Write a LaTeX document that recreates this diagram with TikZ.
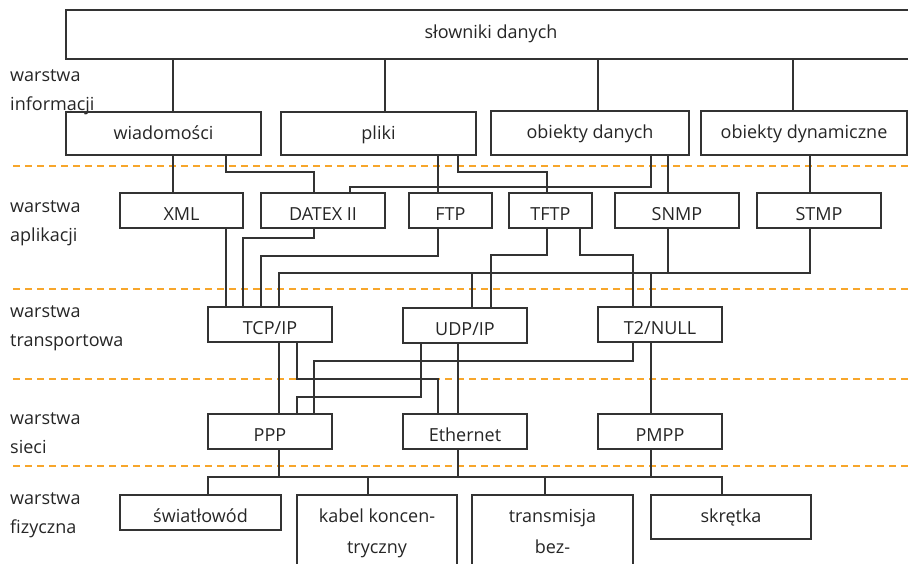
\documentclass[tikz,border=0pt]{standalone}
\usepackage{fontspec}
\setmainfont{Open Sans}
\definecolor{ink}{HTML}{262626}
\definecolor{rule}{HTML}{333333}
\definecolor{layerline}{HTML}{F7A62B}
\begin{document}
\begin{tikzpicture}[x=1pt,y=-1pt,
  % every box puts its text baseline 27pt below its top edge: text height = 54pt - box height
  box/.style={draw=rule,line width=1.1pt,inner sep=0pt,outer sep=0pt,anchor=north west,
    text=ink,font=\fontsize{18}{22}\selectfont,text depth=0pt},
  h35/.style={box,minimum height=35,text height=19pt},
  h43/.style={box,minimum height=43,text height=11pt},
  h44/.style={box,minimum height=44,text height=10pt},
  boxtext/.style={text=ink,font=\fontsize{18}{22}\selectfont,anchor=base,inner sep=0pt},
  layer/.style={text=ink,font=\fontsize{18}{22}\selectfont,anchor=base west,inner sep=0pt},
  link/.style={draw=rule,line width=1.1pt},
  sep/.style={draw=layerline,line width=1.1pt,dash pattern=on 7pt off 5pt}]
\useasboundingbox (0,0) rectangle (908,563);
\fill[white] (0,0) rectangle (908,563);

% layer separators
\foreach \yy in {166,289,379,466}
  \draw[sep] (13,\yy) -- (908,\yy);

% layer names
\node[layer] (linfoa) at (10,81)  {warstwa};
\node[layer] (linfob) at (10,110) {informacji};
\node[layer] (lappa)  at (10,212) {warstwa};
\node[layer] (lappb)  at (10,241) {aplikacji};
\node[layer] (ltrana) at (10,317) {warstwa};
\node[layer] (ltranb) at (10,346) {transportowa};
\node[layer] (lneta)  at (10,424) {warstwa};
\node[layer] (lnetb)  at (10,453) {sieci};
\node[layer] (lphya)  at (10,504) {warstwa};
\node[layer] (lphyb)  at (10,533) {fizyczna};

% information layer
\node[box,minimum width=850,minimum height=49,text height=7pt] (slow) at (66,10) {słowniki danych};
\node[h43,minimum width=195] (wiad) at (66,112) {wiadomości};
\node[h43,minimum width=195] (pliki) at (281,112) {pliki};
\node[h44,minimum width=198] (obdan) at (491,111) {obiekty danych};
\node[h44,minimum width=206] (obdyn) at (701,111) {obiekty dynamiczne};

% application layer
\node[h35,minimum width=123] (xml) at (120,193) {XML};
\node[h35,minimum width=124] (datex) at (261,193) {DATEX II};
\node[h35,minimum width=83] (ftp) at (409,193) {FTP};
\node[h35,minimum width=83] (tftp) at (509,193) {TFTP};
\node[h35,minimum width=124] (snmp) at (615,193) {SNMP};
\node[h35,minimum width=124] (stmp) at (757,193) {STMP};

% transport layer
\node[h35,minimum width=124] (tcp) at (208,307) {TCP/IP};
\node[h35,minimum width=124] (udp) at (403,308) {UDP/IP};
\node[h35,minimum width=124] (t2) at (598,307) {T2/NULL};

% network layer
\node[h35,minimum width=124] (ppp) at (208,414) {PPP};
\node[h35,minimum width=124] (eth) at (403,414) {Ethernet};
\node[h35,minimum width=124] (pmpp) at (598,414) {PMPP};

% physical layer
\node[h35,minimum width=161] (swiat) at (120,495) {światłowód};
\node[box,minimum width=160,minimum height=85] (kabel) at (297,495) {};
\node[boxtext] (kabela) at ([yshift=-27pt]kabel.north) {kabel koncen-};
\node[boxtext] (kabelb) at ([yshift=-58pt]kabel.north) {tryczny};
\node[box,minimum width=161,minimum height=85] (trans) at (472,495) {};
\node[boxtext] (transa) at ([yshift=-27pt]trans.north) {transmisja};
\node[boxtext] (transb) at ([yshift=-58pt]trans.north) {bez-};
\node[h44,minimum width=160] (skretka) at (651,495) {skrętka};

% dictionaries -> information objects
\draw[link] (slow.south -| 173,0) -- (wiad.north -| 173,0);
\draw[link] (slow.south -| 385,0) -- (pliki.north -| 385,0);
\draw[link] (slow.south -| 598,0) -- (obdan.north -| 598,0);
\draw[link] (slow.south -| 793,0) -- (obdyn.north -| 793,0);

% information -> application
\draw[link] (wiad.south -| 173,0) -- (xml.north -| 173,0);
\draw[link] (wiad.south -| 226,0) |- (314,172) -- (datex.north -| 314,0);
\draw[link] (pliki.south -| 438,0) -- (ftp.north -| 438,0);
\draw[link] (pliki.south -| 458,0) |- (547,172) -- (tftp.north -| 547,0);
\draw[link] (obdan.south -| 651,0) |- (350,187) -- (datex.north -| 350,0);
\draw[link] (obdan.south -| 668,0) -- (snmp.north -| 668,0);
\draw[link] (obdyn.south -| 810,0) -- (stmp.north -| 810,0);

% application -> transport
\draw[link] (xml.south -| 226,0) -- (tcp.north -| 226,0);
\draw[link] (datex.south -| 314,0) |- (243,238) -- (tcp.north -| 243,0);
\draw[link] (ftp.south -| 438,0) |- (261,256) -- (tcp.north -| 261,0);
\coordinate (busapp) at (472,273);
\draw[link] (stmp.south -| 810,0) |- (279,273) -- (tcp.north -| 279,0);
\draw[link] (snmp.south -| 668,0) -- (668,273);
\draw[link] (busapp) -- (udp.north -| busapp);
\draw[link] (651,273) -- (t2.north -| 651,0);
\draw[link] (tftp.south -| 547,0) |- (491,255) -- (udp.north -| 491,0);
\draw[link] (tftp.south -| 580,0) |- (633,255) -- (t2.north -| 633,0);

% transport -> network
\draw[link] (tcp.south -| 279,0) -- (ppp.north -| 279,0);
\draw[link] (tcp.south -| 297,0) |- (438,379) -- (eth.north -| 438,0);
\draw[link] (udp.south -| 421,0) |- (297,397) -- (ppp.north -| 297,0);
\draw[link] (udp.south -| 458,0) -- (eth.north -| 458,0);
\draw[link] (t2.south -| 633,0) |- (314,361) -- (ppp.north -| 314,0);
\draw[link] (t2.south -| 651,0) -- (pmpp.north -| 651,0);

% network -> physical
\coordinate (busphy) at (208,477);
\draw[link] (ppp.south -| 279,0) -- (279,477);
\draw[link] (eth.south -| 458,0) -- (458,477);
\draw[link] (pmpp.south -| 651,0) -- (651,477);
\draw[link] (swiat.north -| busphy) -- (busphy) -- (722,477) -- (skretka.north -| 722,0);
\draw[link] (368,477) -- (kabel.north -| 368,0);
\draw[link] (545,477) -- (trans.north -| 545,0);
\end{tikzpicture}
\end{document}
